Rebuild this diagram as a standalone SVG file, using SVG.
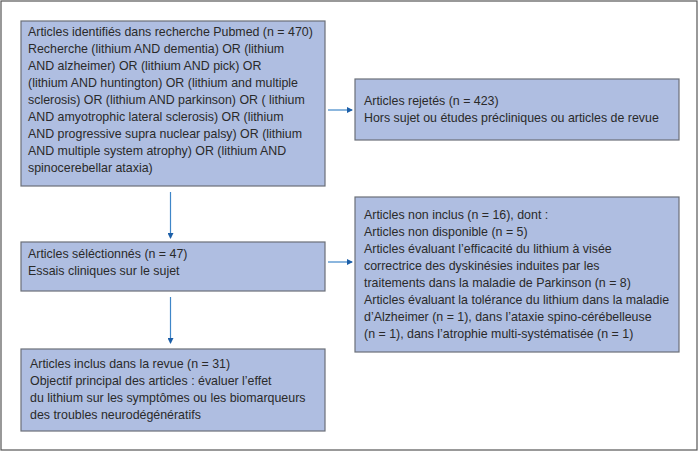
<svg xmlns="http://www.w3.org/2000/svg" width="700" height="452" viewBox="0 0 700 452">
<style>
.box{fill:#afbee1;stroke:#6b6f78;stroke-width:1.2}
.t{font-family:"Liberation Sans",Arial,sans-serif;font-size:12.4px;fill:#2a2a2a}
.c{stroke:#3f86c8;stroke-width:1.2;fill:none}
</style>
<defs>
<marker id="ah" markerWidth="6" markerHeight="6" refX="5" refY="3" orient="auto" markerUnits="userSpaceOnUse">
<path d="M0,0 L6,3 L0,6 Z" fill="#1c5fa8"/>
</marker>
</defs>
<rect x="1" y="1" width="696" height="449" fill="#fff" stroke="#555" stroke-width="1.2"/>
<g id="connectors">
<line class="c" x1="328" y1="110" x2="352" y2="110" marker-end="url(#ah)"/>
<line class="c" x1="170.5" y1="192" x2="170.5" y2="238" marker-end="url(#ah)"/>
<line class="c" x1="328" y1="262" x2="352" y2="262" marker-end="url(#ah)"/>
<line class="c" x1="170.5" y1="297" x2="170.5" y2="343" marker-end="url(#ah)"/>
</g>
<g id="identified">
<rect class="box" x="21" y="21" width="304" height="165"/>
<text class="t" x="28" y="36">Articles identifiés dans recherche Pubmed (n = 470)</text>
<text class="t" x="28" y="53">Recherche (lithium AND dementia) OR (lithium</text>
<text class="t" x="28" y="70">AND alzheimer) OR (lithium AND pick) OR</text>
<text class="t" x="28" y="87">(lithium AND huntington) OR (lithium and multiple</text>
<text class="t" x="28" y="104">sclerosis) OR (lithium AND parkinson) OR ( lithium</text>
<text class="t" x="28" y="121">AND amyotrophic lateral sclerosis) OR (lithium</text>
<text class="t" x="28" y="138">AND progressive supra nuclear palsy) OR (lithium</text>
<text class="t" x="28" y="155">AND multiple system atrophy) OR (lithium AND</text>
<text class="t" x="28" y="172">spinocerebellar ataxia)</text>
</g>
<g id="rejected">
<rect class="box" x="355" y="79" width="324" height="61"/>
<text class="t" x="364" y="105">Articles rejetés (n = 423)</text>
<text class="t" x="364" y="122">Hors sujet ou études précliniques ou articles de revue</text>
</g>
<g id="selected">
<rect class="box" x="21" y="242" width="304" height="49"/>
<text class="t" x="28" y="258">Articles séléctionnés (n = 47)</text>
<text class="t" x="28" y="275">Essais cliniques sur le sujet</text>
</g>
<g id="excluded">
<rect class="box" x="355" y="197" width="324" height="155"/>
<text class="t" x="364" y="219">Articles non inclus (n = 16), dont :</text>
<text class="t" x="364" y="236">Articles non disponible (n = 5)</text>
<text class="t" x="364" y="253">Articles évaluant l’efficacité du lithium à visée</text>
<text class="t" x="364" y="270">correctrice des dyskinésies induites par les</text>
<text class="t" x="364" y="287">traitements dans la maladie de Parkinson (n = 8)</text>
<text class="t" x="364" y="304">Articles évaluant la tolérance du lithium dans la maladie</text>
<text class="t" x="364" y="321">d’Alzheimer (n = 1), dans l’ataxie spino-cérébelleuse</text>
<text class="t" x="364" y="338">(n = 1), dans l’atrophie multi-systématisée (n = 1)</text>
</g>
<g id="included">
<rect class="box" x="21" y="349" width="304" height="82"/>
<text class="t" x="30" y="368">Articles inclus dans la revue (n = 31)</text>
<text class="t" x="30" y="385">Objectif principal des articles : évaluer l’effet</text>
<text class="t" x="30" y="402">du lithium sur les symptômes ou les biomarqueurs</text>
<text class="t" x="30" y="419">des troubles neurodégénératifs</text>
</g>
</svg>
